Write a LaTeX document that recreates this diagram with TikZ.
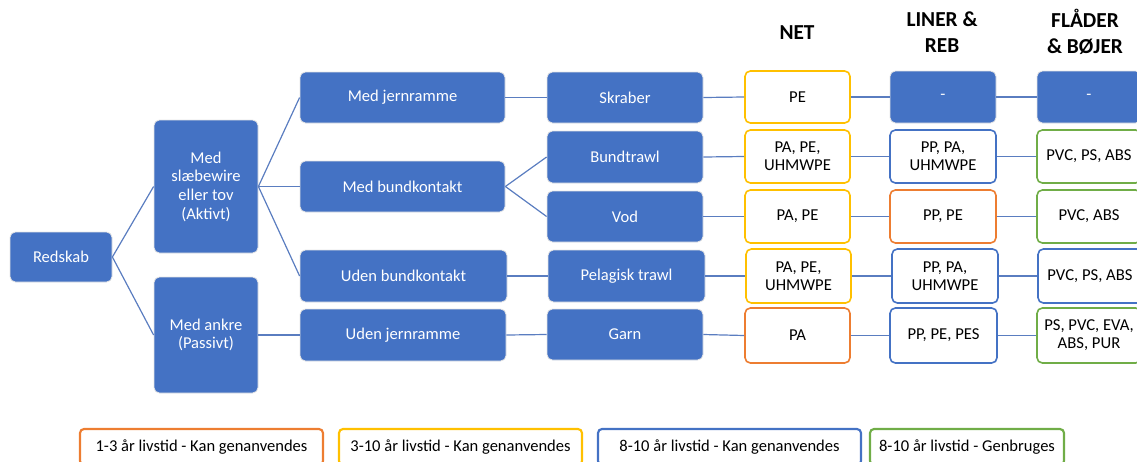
\documentclass[tikz,border=0pt]{standalone}
\usepackage{fontspec}
\setmainfont{Carlito}
\definecolor{obl}{HTML}{4472C4}
\definecolor{ogold}{HTML}{FFC000}
\definecolor{oorange}{HTML}{ED7D31}
\definecolor{ogreen}{HTML}{70AD47}
\definecolor{conn}{HTML}{5A7DC0}
\begin{document}
\begin{tikzpicture}[x=0.75pt,y=-0.75pt,
 sz/.style 2 args={minimum width=#1*0.75pt, minimum height=#2*0.75pt},
 bluebox/.style={rectangle, rounded corners=4pt, fill=obl, draw=black!10, line width=0.6pt, text=white, font=\fontsize{12.4}{14}\selectfont, align=center, inner sep=0pt},
 matbox/.style={rectangle, rounded corners=4pt, fill=white, draw=#1, line width=1.2pt, text=black, font=\fontsize{12.5}{13.5}\selectfont, align=center, inner sep=0pt},
 legbox/.style={rectangle, rounded corners=3pt, draw=#1, line width=1.6pt, font=\fontsize{12.4}{14}\selectfont, inner sep=0pt},
 hdr/.style={font=\bfseries\fontsize{16}{19.5}\selectfont, align=center, inner sep=0pt},
 link/.style={draw=conn, line width=0.9pt}]
\useasboundingbox (0,0) rectangle (1137,461);
\clip (0,0) rectangle (1137,461);

% headers
\node[hdr] (hnet) at (797,33) {NET};
\node[hdr] (hlin) at (942,32) {LINER \&\\REB};
\node[hdr] (hfl) at (1085,32) {FLÅDER\\\& BØJER};

% tree
\node[bluebox, sz={102}{50}] (red) at (61,257) {Redskab};
\node[bluebox, sz={104}{133}] (akt) at (206,186.5) {Med\\slæbewire\\eller tov\\(Aktivt)};
\node[bluebox, sz={104}{116}] (pas) at (206,335) {Med ankre\\(Passivt)};
\node[bluebox, sz={205}{51}] (mjr) at (402.5,97.5) {Med jernramme};
\node[bluebox, sz={205}{51}] (mbk) at (402.5,186.5) {Med bundkontakt};
\node[bluebox, sz={207}{52}] (ubk) at (403.5,276) {Uden bundkontakt};
\node[bluebox, sz={206}{52}] (ujr) at (403,335) {Uden jernramme};
\node[bluebox, sz={156}{51}] (skr) at (625,97.5) {Skraber};
\node[bluebox, sz={156}{52}] (bt) at (625,157) {Bundtrawl};
\node[bluebox, sz={156}{51}] (vod) at (625,216.5) {Vod};
\node[bluebox, sz={157}{52}] (pel) at (626.5,276) {Pelagisk trawl};
\node[bluebox, sz={156}{51}] (garn) at (625,334.5) {Garn};

% NET column
\node[matbox=ogold, sz={105}{52}] (n1) at (797.5,97) {PE};
\node[matbox=ogold, sz={105}{53}] (n2) at (797.5,156.5) {PA, PE,\\UHMWPE};
\node[matbox=ogold, sz={105}{53}] (n3) at (797.5,216.5) {PA, PE};
\node[matbox=ogold, sz={105}{54}] (n4) at (798.5,276) {PA, PE,\\UHMWPE};
\node[matbox=oorange, sz={105}{55}] (n5) at (797.5,335.5) {PA};

% LINER column
\node[bluebox, sz={106}{52}] (l1) at (943,97) {-};
\node[matbox=obl, sz={106}{53}] (l2) at (943,156.5) {PP, PA,\\UHMWPE};
\node[matbox=oorange, sz={106}{53}] (l3) at (943,216.5) {PP, PE};
\node[matbox=obl, sz={106}{54}] (l4) at (945,276) {PP, PA,\\UHMWPE};
\node[matbox=obl, sz={107}{55}] (l5) at (943.5,335.5) {PP, PE, PES};

% FLAADER column
\node[bluebox, sz={104}{52}] (f1) at (1089,97) {-};
\node[matbox=ogreen, sz={104}{53}] (f2) at (1089,156.5) {PVC, PS, ABS};
\node[matbox=ogreen, sz={104}{53}] (f3) at (1089,216.5) {PVC, ABS};
\node[matbox=obl, sz={104}{54}] (f4) at (1090,276) {PVC, PS, ABS};
\node[matbox=ogreen, sz={104}{55}] (f5) at (1089,335.5) {PS, PVC, EVA,\\ABS, PUR};

% connectors
\draw[link] (red.east) -- (akt.west);
\draw[link] (red.east) -- (pas.west);
\draw[link] (akt.east) -- (mjr.west);
\draw[link] (akt.east) -- (mbk.west);
\draw[link] (akt.east) -- (ubk.west);
\draw[link] (pas.east) -- (ujr.west);
\draw[link] (mjr.east) -- (skr.west);
\draw[link] (mbk.east) -- (bt.west);
\draw[link] (mbk.east) -- (vod.west);
\draw[link] (ubk.east) -- (pel.west);
\draw[link] (ujr.east) -- (garn.west);
\foreach \a/\b/\c/\d in {skr/n1/l1/f1, bt/n2/l2/f2, vod/n3/l3/f3, pel/n4/l4/f4, garn/n5/l5/f5}{
  \draw[link] (\a.east) -- (\b.west);
  \draw[link] (\b.east) -- (\c.west);
  \draw[link] (\c.east) -- (\d.west);
}

% legend
\node[legbox=oorange, sz={243}{36}] (lg1) at (201.5,447) {1-3 år livstid - Kan genanvendes};
\node[legbox=ogold, sz={243}{36}] (lg2) at (460.5,447) {3-10 år livstid - Kan genanvendes};
\node[legbox=obl, sz={263}{36}] (lg3) at (729.5,447) {8-10 år livstid - Kan genanvendes};
\node[legbox=ogreen, sz={194}{36}] (lg4) at (967,447) {8-10 år livstid - Genbruges};
\end{tikzpicture}
\end{document}
